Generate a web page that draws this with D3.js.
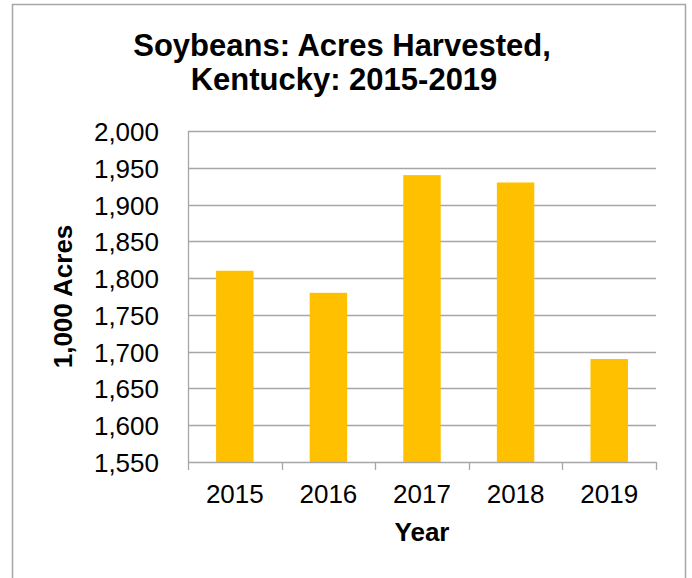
<!DOCTYPE html>
<html>
<head>
<meta charset="utf-8">
<script src="https://cdn.jsdelivr.net/npm/d3@7"></script>
<style>
  html, body { margin: 0; padding: 0; background: #fff; }
  svg { display: block; font-family: "Liberation Sans", Arial, sans-serif; }
</style>
</head>
<body>
<svg id="chart" width="692" height="578"></svg>
<script>
const years = ["2015", "2016", "2017", "2018", "2019"];
const acres = [1810, 1780, 1940, 1930, 1690];
const yTicks = [1550, 1600, 1650, 1700, 1750, 1800, 1850, 1900, 1950, 2000];
const titleLines = ["Soybeans: Acres Harvested,", "Kentucky: 2015-2019"];
const xTitle = "Year";
const yTitle = "1,000 Acres";

const svg = d3.select("#chart");
const m = { left: 188, right: 656, top: 131, bottom: 462 };

// outer border
svg.append("rect")
  .attr("x", 12.5).attr("y", 4.5)
  .attr("width", 673).attr("height", 600)
  .attr("fill", "#fff").attr("stroke", "#a6a6a6").attr("stroke-width", 1.5);

const xOuter = d3.scaleBand().domain(years).range([m.left, m.right]);
const y = d3.scaleLinear().domain([1550, 2000]).range([m.bottom, m.top]);

// gridlines
svg.append("g").selectAll("line").data(yTicks.slice(1)).join("line")
  .attr("x1", m.left).attr("x2", m.right)
  .attr("y1", d => Math.round(y(d)) + 0.5).attr("y2", d => Math.round(y(d)) + 0.5)
  .attr("stroke", "#a6a6a6").attr("stroke-width", 1.3);

// bars
const barW = xOuter.bandwidth() / 2.5;
svg.append("g").selectAll("rect").data(years).join("rect")
  .attr("x", (d) => xOuter(d) + (xOuter.bandwidth() - barW) / 2)
  .attr("width", barW)
  .attr("y", (d, i) => y(acres[i]))
  .attr("height", (d, i) => y(1550) - y(acres[i]))
  .attr("fill", "#FFC000");

// y axis line
svg.append("line")
  .attr("x1", m.left + 0.5).attr("x2", m.left + 0.5)
  .attr("y1", m.top).attr("y2", m.bottom)
  .attr("stroke", "#a6a6a6").attr("stroke-width", 1.3);

// x axis
const gx = svg.append("g").attr("transform", `translate(0,${m.bottom})`);
gx.append("line")
  .attr("x1", m.left).attr("x2", m.right)
  .attr("y1", 0.5).attr("y2", 0.5)
  .attr("stroke", "#a6a6a6").attr("stroke-width", 1.3);
const tickXs = years.map(d => xOuter(d)).concat([m.right]);
gx.selectAll("line.tk").data(tickXs).join("line").attr("class", "tk")
  .attr("x1", d => Math.round(d) + 0.5).attr("x2", d => Math.round(d) + 0.5)
  .attr("y1", 0).attr("y2", 8)
  .attr("stroke", "#a6a6a6").attr("stroke-width", 1.3);
gx.selectAll("text.lbl").data(years).join("text").attr("class", "lbl")
  .attr("x", d => xOuter(d) + xOuter.bandwidth() / 2)
  .attr("y", 41)
  .attr("text-anchor", "middle")
  .attr("font-size", 26)
  .attr("fill", "#000")
  .text(d => d);

// y tick labels
const fmt = d3.format(",");
svg.append("g").selectAll("text").data(yTicks).join("text")
  .attr("x", 159)
  .attr("y", d => y(d) + 10)
  .attr("text-anchor", "end")
  .attr("font-size", 26)
  .attr("fill", "#000")
  .text(d => fmt(d));

// titles
svg.append("text")
  .attr("x", 342).attr("y", 56)
  .attr("text-anchor", "middle")
  .attr("font-size", 31).attr("font-weight", "bold")
  .text(titleLines[0]);
svg.append("text")
  .attr("x", 344).attr("y", 90)
  .attr("text-anchor", "middle")
  .attr("font-size", 31).attr("font-weight", "bold")
  .text(titleLines[1]);

svg.append("text")
  .attr("x", 422).attr("y", 541)
  .attr("text-anchor", "middle")
  .attr("font-size", 26).attr("font-weight", "bold")
  .text(xTitle);

svg.append("text")
  .attr("transform", `translate(72,${(m.top + m.bottom) / 2}) rotate(-90)`)
  .attr("text-anchor", "middle")
  .attr("font-size", 26).attr("font-weight", "bold")
  .text(yTitle);
</script>
</body>
</html>
